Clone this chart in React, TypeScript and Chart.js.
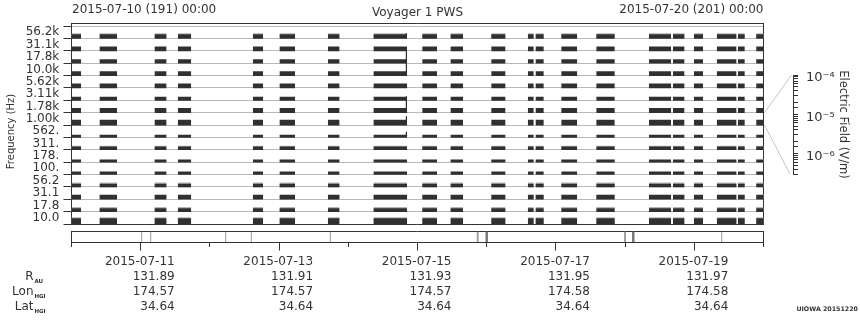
import React, { useEffect, useRef } from 'react';
import { Chart, registerables } from 'chart.js';

Chart.register(...registerables);

const FONT = '"DejaVu Sans", "Liberation Sans", sans-serif';
const INK = '#333333';
const GRID = '#b8b8b8';
const BAR = '#303030';
const FRINGE = '#b4b4b4';

// ---------- data ----------
const titleLeft = '2015-07-10 (191) 00:00';
const titleCenter = 'Voyager 1 PWS';
const titleRight = '2015-07-20 (201) 00:00';

const freqLabels = ['56.2k', '31.1k', '17.8k', '10.0k', '5.62k', '3.11k', '1.78k', '1.00k', '562.', '311.', '178.', '100.', '56.2', '31.1', '17.8', '10.0'];

// data segments, days since 2015-07-10 00:00
const segStart = [0.0, 0.412, 1.207, 1.543, 2.627, 3.013, 3.711, 4.371, 5.075, 5.484, 6.072, 6.601, 6.713, 7.084, 7.59, 8.35, 8.697, 9.0, 9.332, 9.636, 9.9];
const segEnd = [0.133, 0.653, 1.366, 1.723, 2.763, 3.225, 3.866, 4.844, 5.277, 5.653, 6.264, 6.673, 6.818, 7.301, 7.844, 8.659, 8.851, 9.121, 9.603, 9.723, 10.0];

// trace level of each channel (height of the saturated trace above its baseline)
const channelLevel = [4, 4, 3.5, 4, 4, 3.3, 4.3, 5, 2.3, 3, 2, 2.7, 2.7, 4, 3, 5.5];
// extra faint trace above the saturated part
const channelFringe = [1, 0, 0, 0, 0, 0, 0, 0, 0, 0.7, 0.7, 0, 1.3, 0.7, 1.3, 1];

// single spike, drawn in pieces (channel units)
const spikeTime = 4.84;
const spikePieces = [[0.6, 0.75], [2.05, 3.7], [5.7, 6.8], [7.3, 8.0], [8.55, 8.95]];

// gap / marker lines in the lower strip (days)
const markThin = [1.014, 1.145, 2.228, 2.598, 3.74, 9.396];
const markMid = [5.87, 7.999];
const markDark = [6.0, 8.118];

// x labels and ephemeris
const labelDays = [1, 3, 5, 7, 9];
const dateLabels = ['2015-07-11', '2015-07-13', '2015-07-15', '2015-07-17', '2015-07-19'];
const rAU = ['131.89', '131.91', '131.93', '131.95', '131.97'];
const lonHGI = ['174.57', '174.57', '174.57', '174.58', '174.58'];
const latHGI = ['34.64', '34.64', '34.64', '34.64', '34.64'];

// electric field scale (V/m)
const fieldMin = 3e-7;
const fieldMax = 1e-4;
const scaleChannel = 7;

// ---------- layout constants ----------
const AREA_LEFT = 71.5;
const AREA_RIGHT = 763.5;
const AREA_TOP = 23;
const AREA_BOTTOM = 224;
const Y_MIN = -0.25;
const Y_MAX = 16;
const PPU = (AREA_BOTTOM - AREA_TOP) / (Y_MAX - Y_MIN);
const SCALE_X = 793.5;
const SCALE_TOP = 75;
const SCALE_BOTTOM = 174;

const SUP: Record<string, string> = { '-': '\u207B', '0': '\u2070', '1': '\u00B9', '2': '\u00B2', '3': '\u00B3', '4': '\u2074', '5': '\u2075', '6': '\u2076', '7': '\u2077', '8': '\u2078', '9': '\u2079' };

const borderOnly = (position: string, extra: any = {}) => ({
  type: 'linear',
  position,
  display: true,
  offset: false,
  ticks: { display: false },
  grid: { drawOnChartArea: false, drawTicks: false, offset: false },
  border: { color: INK, width: 1 },
  afterFit: (s: any) => {
    if (position === 'top' || position === 'bottom') s.height = 0;
    else s.width = 0;
  },
  ...extra,
});

function mainConfig(): any {
  const datasets: any[] = [];
  freqLabels.forEach((_, i) => {
    const fr = channelFringe[i];
    if (fr > 0) {
      const t = channelLevel[i] + fr;
      datasets.push({
        type: 'bar',
        label: freqLabels[i] + ' faint',
        data: segStart.map((s, k) => ({ x: [s, segEnd[k]], y: i + 1 - t / 2 / PPU })),
        barThickness: t,
        grouped: false,
        backgroundColor: FRINGE,
        borderWidth: 0,
        order: 2,
        xAxisID: 'x',
        yAxisID: 'y',
      });
    }
    datasets.push({
      type: 'bar',
      label: freqLabels[i],
      data: segStart.map((s, k) => ({ x: [s, segEnd[k]], y: i + 1 - channelLevel[i] / 2 / PPU })),
      barThickness: channelLevel[i],
      grouped: false,
      backgroundColor: BAR,
      borderWidth: 0,
      order: 1,
      xAxisID: 'x',
      yAxisID: 'y',
    });
  });
  spikePieces.forEach((p, k) => {
    datasets.push({
      type: 'line',
      label: 'spike ' + k,
      data: p.map((c) => ({ x: spikeTime, y: c })),
      borderColor: BAR,
      borderWidth: 1,
      pointRadius: 0,
      order: 0,
      xAxisID: 'x',
      yAxisID: 'y',
    });
  });

  const overlay = {
    id: 'overlay',
    afterDraw(chart: any) {
      const { ctx, chartArea } = chart;
      const ys = chart.scales.y;
      ctx.save();
      ctx.fillStyle = INK;
      ctx.font = `12px ${FONT}`;
      ctx.textBaseline = 'alphabetic';
      ctx.textAlign = 'left';
      ctx.fillText(titleLeft, chartArea.left + 0.5, 12.5);
      ctx.textAlign = 'right';
      ctx.fillText(titleRight, chartArea.right, 12.5);
      ctx.textAlign = 'center';
      ctx.fillText(titleCenter, (chartArea.left + chartArea.right) / 2, 15.5);
      // connectors to the field scale
      ctx.strokeStyle = '#c4c4c4';
      ctx.lineWidth = 1;
      ctx.beginPath();
      ctx.moveTo(chartArea.right + 1, ys.getPixelForValue(scaleChannel));
      ctx.lineTo(SCALE_X - 2, SCALE_TOP);
      ctx.moveTo(chartArea.right + 1, ys.getPixelForValue(scaleChannel + 1));
      ctx.lineTo(SCALE_X - 3.5, SCALE_BOTTOM);
      ctx.stroke();
      ctx.restore();
    },
  };

  return {
    type: 'bar',
    data: { datasets },
    plugins: [overlay],
    options: {
      animation: false,
      responsive: false,
      devicePixelRatio: 1,
      indexAxis: 'y',
      layout: { padding: { left: 0, top: AREA_TOP, right: 860 - AREA_RIGHT, bottom: 320 - AREA_BOTTOM } },
      plugins: { legend: { display: false }, tooltip: { enabled: false }, title: { display: false } },
      scales: {
        x: borderOnly('bottom', { min: 0, max: 10 }),
        x2: borderOnly('top', { min: 0, max: 10 }),
        y: {
          type: 'linear',
          position: 'left',
          weight: 0,
          min: Y_MIN,
          max: Y_MAX,
          reverse: true,
          offset: false,
          afterBuildTicks: (s: any) => {
            s.ticks = freqLabels.map((_, i) => ({ value: i })).concat([{ value: freqLabels.length }]);
          },
          ticks: { display: false },
          grid: { color: GRID, tickColor: INK, tickLength: 8, lineWidth: 1, offset: false },
          border: { color: INK },
          afterFit: (s: any) => { s.width = 8; },
        },
        yLabels: {
          type: 'linear',
          position: 'left',
          weight: 1,
          min: Y_MIN,
          max: Y_MAX,
          reverse: true,
          offset: false,
          afterBuildTicks: (s: any) => {
            s.ticks = freqLabels.map((_, i) => ({ value: i + 0.5 }));
          },
          ticks: {
            autoSkip: false,
            callback: (_v: any, i: number) => freqLabels[i],
            font: { family: FONT, size: 12 },
            color: INK,
            padding: 4.2,
          },
          grid: { display: false, drawTicks: false, offset: false },
          border: { display: false },
          title: {
            display: true,
            text: 'Frequency (Hz)     ',
            font: { family: FONT, size: 10 },
            color: INK,
            padding: { top: 5, bottom: 0 },
          },
          afterFit: (s: any) => { s.width = AREA_LEFT - 8; },
        },
        y2: borderOnly('right', { min: Y_MIN, max: Y_MAX, reverse: true }),
      },
    },
  };
}

function stripConfig(): any {
  const mk = (arr: number[], w: number, color: string, label: string) => ({
    type: 'bar',
    label,
    data: arr.map((t) => ({ x: t, y: [0, 1] })),
    barThickness: w,
    grouped: false,
    backgroundColor: color,
    borderWidth: 0,
    inflateAmount: 0,
    xAxisID: 'x',
    yAxisID: 'y',
  });
  const rowLabels = {
    id: 'rowLabels',
    afterDraw(chart: any) {
      const { ctx } = chart;
      const s = chart.scales.xLab;
      const lh = 14.8;
      const y0 = s.top + 3.5 + 4.3 + lh / 2;
      const rows: [string, string][] = [['R', 'AU'], ['Lon', 'HGI'], ['Lat', 'HGI']];
      ctx.save();
      ctx.fillStyle = INK;
      rows.forEach(([main, sub], k) => {
        const y = y0 + (k + 1) * lh;
        ctx.font = `12px ${FONT}`;
        ctx.textAlign = 'right';
        ctx.textBaseline = 'middle';
        ctx.fillText(main, 33.5, y);
        ctx.font = `bold 5.5px ${FONT}`;
        ctx.textAlign = 'left';
        ctx.fillText(sub, 34.5, y + 4.5);
      });
      ctx.font = `bold 6.3px ${FONT}`;
      ctx.textAlign = 'right';
      ctx.textBaseline = 'alphabetic';
      ctx.fillText('UIOWA 20151220', 858, 310.5);
      ctx.restore();
    },
  };
  return {
    type: 'bar',
    data: {
      datasets: [mk(markThin, 1, '#9a9a9a', 'thin'), mk(markMid, 2, '#a0a0a0', 'mid'), mk(markDark, 2.5, '#7a7a7a', 'dark')],
    },
    plugins: [rowLabels],
    options: {
      animation: false,
      responsive: false,
      devicePixelRatio: 1,
      layout: { padding: { left: AREA_LEFT, right: 860 - AREA_RIGHT, top: 231.5, bottom: 0 } },
      plugins: { legend: { display: false }, tooltip: { enabled: false } },
      scales: {
        x: {
          type: 'linear',
          position: 'bottom',
          weight: 0,
          min: 0,
          max: 10,
          offset: false,
          afterBuildTicks: (s: any) => {
            const t = [];
            for (let d = 0; d <= 10; d++) t.push({ value: d });
            s.ticks = t;
          },
          ticks: { display: false },
          grid: { drawOnChartArea: false, tickLength: 4.5, tickColor: INK, offset: false },
          border: { color: INK },
          afterFit: (s: any) => { s.height = 4.5; },
        },
        xLab: {
          type: 'linear',
          position: 'bottom',
          weight: 1,
          min: 0,
          max: 10,
          offset: false,
          afterBuildTicks: (s: any) => {
            s.ticks = labelDays.map((v) => ({ value: v }));
          },
          ticks: {
            autoSkip: false,
            maxRotation: 0,
            align: 'end',
            labelOffset: 34,
            padding: 4.3,
            color: INK,
            font: { family: FONT, size: 12, lineHeight: '14.8px' },
            callback: (_v: any, i: number) => [dateLabels[i], rAU[i], lonHGI[i], latHGI[i]],
          },
          grid: { drawOnChartArea: false, tickLength: 3.5, tickColor: INK, offset: false },
          border: { display: false },
          afterFit: (s: any) => { s.height = 320 - 242.5 - 4.5; },
        },
        x2: borderOnly('top', { min: 0, max: 10 }),
        y: borderOnly('left', { min: 0, max: 1 }),
        y2: borderOnly('right', { min: 0, max: 1 }),
      },
    },
  };
}

function scaleConfig(): any {
  return {
    type: 'line',
    data: { datasets: [] },
    options: {
      animation: false,
      responsive: false,
      devicePixelRatio: 1,
      layout: { padding: { left: 770, right: 0, top: SCALE_TOP, bottom: 320 - SCALE_BOTTOM } },
      plugins: { legend: { display: false }, tooltip: { enabled: false } },
      scales: {
        x: { type: 'linear', display: false, min: 0, max: 1 },
        y: {
          type: 'logarithmic',
          position: 'right',
          min: fieldMin,
          max: fieldMax,
          ticks: {
            autoSkip: false,
            color: INK,
            padding: 8,
            labelOffset: 3,
            font: { family: FONT, size: 13 },
            callback: (v: any) => {
              const e = Math.log10(Number(v));
              if (Math.abs(e - Math.round(e)) > 1e-6) return '';
              const ex = String(Math.round(e)).split('').map((c) => SUP[c] || c).join('');
              return '10' + ex;
            },
          },
          grid: { drawOnChartArea: false, tickLength: 4.5, tickColor: INK },
          border: { color: INK },
          title: {
            display: true,
            text: 'Electric Field (V/m)',
            font: { family: FONT, size: 11.5 },
            color: INK,
            padding: { top: 10, bottom: 0 },
          },
          afterFit: (s: any) => { s.width = 860 - SCALE_X; },
        },
      },
    },
  };
}

export default function App() {
  const mainRef = useRef<HTMLCanvasElement>(null);
  const stripRef = useRef<HTMLCanvasElement>(null);
  const scaleRef = useRef<HTMLCanvasElement>(null);

  useEffect(() => {
    Chart.defaults.font.family = FONT;
    Chart.defaults.color = INK;
    const charts = [
      new Chart(mainRef.current as HTMLCanvasElement, mainConfig()),
      new Chart(stripRef.current as HTMLCanvasElement, stripConfig()),
      new Chart(scaleRef.current as HTMLCanvasElement, scaleConfig()),
    ];
    return () => charts.forEach((c) => c.destroy());
  }, []);

  const cs: React.CSSProperties = { position: 'absolute', left: 0, top: 0, width: 860, height: 320 };
  return (
    <div style={{ position: 'absolute', left: 0, top: 0, width: 860, height: 320, background: '#ffffff' }}>
      <canvas ref={mainRef} width={860} height={320} style={cs} />
      <canvas ref={stripRef} width={860} height={320} style={cs} />
      <canvas ref={scaleRef} width={860} height={320} style={cs} />
    </div>
  );
}
